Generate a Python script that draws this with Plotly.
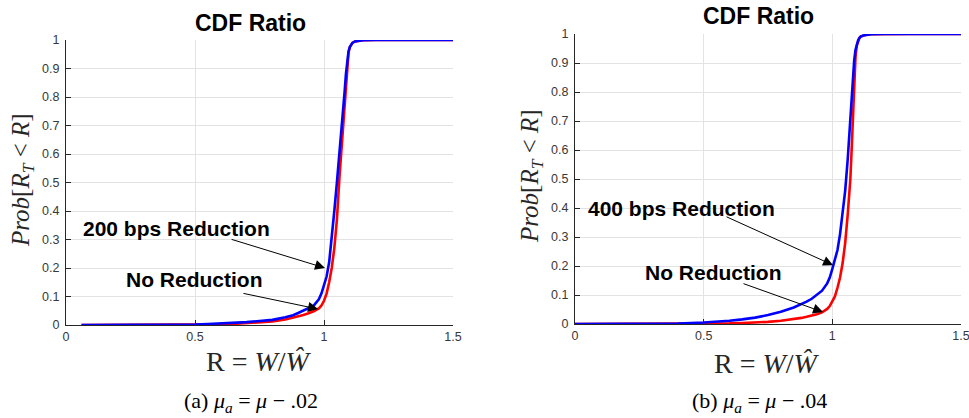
import plotly.graph_objects as go

# ---------------- data ----------------
# (a) mu_a = mu - .02
a_red_x = [0.06, 0.2, 0.3, 0.4, 0.5, 0.55, 0.6, 0.65, 0.7, 0.75, 0.8, 0.85, 0.88, 0.9, 0.92, 0.94,
           0.96, 0.98, 0.99, 1.0, 1.01, 1.02, 1.03, 1.04, 1.05, 1.06, 1.07, 1.08, 1.085, 1.09,
           1.095, 1.1, 1.105, 1.11, 1.12, 1.13, 1.15, 1.2, 1.3, 1.5]
a_red_y = [0.0, 0.0001, 0.0003, 0.0006, 0.001, 0.0015, 0.0025, 0.004, 0.006, 0.009, 0.012, 0.019,
           0.025, 0.03, 0.035, 0.041, 0.048, 0.058, 0.068, 0.085, 0.11, 0.15, 0.2, 0.27, 0.37, 0.52,
           0.65, 0.78, 0.86, 0.92, 0.955, 0.975, 0.985, 0.99, 0.995, 0.997, 0.999, 1.0, 1.0, 1.0]
a_blue_x = [0.06, 0.2, 0.3, 0.4, 0.5, 0.55, 0.6, 0.65, 0.7, 0.75, 0.8, 0.85, 0.88, 0.9, 0.92, 0.94,
            0.96, 0.98, 0.99, 1.0, 1.01, 1.02, 1.03, 1.04, 1.05, 1.06, 1.07, 1.08, 1.085, 1.09,
            1.095, 1.1, 1.105, 1.11, 1.12, 1.13, 1.15, 1.2, 1.3, 1.5]
a_blue_y = [0.0, 0.0002, 0.0005, 0.001, 0.002, 0.0035, 0.005, 0.0075, 0.01, 0.014, 0.018, 0.027,
            0.034, 0.042, 0.05, 0.058, 0.068, 0.09, 0.11, 0.14, 0.17, 0.22, 0.3, 0.4, 0.5, 0.6,
            0.7, 0.82, 0.88, 0.93, 0.96, 0.975, 0.985, 0.99, 0.995, 0.997, 0.999, 1.0, 1.0, 1.0]

# (b) mu_a = mu - .04
b_red_x = [0.0, 0.2, 0.4, 0.5, 0.6, 0.65, 0.7, 0.75, 0.8, 0.85, 0.88, 0.9, 0.92, 0.94, 0.96, 0.98,
           0.99, 1.0, 1.01, 1.02, 1.03, 1.04, 1.05, 1.06, 1.07, 1.075, 1.08, 1.085, 1.09, 1.095,
           1.1, 1.105, 1.11, 1.12, 1.13, 1.15, 1.2, 1.3, 1.5]
b_red_y = [0.0, 0.0001, 0.0005, 0.001, 0.002, 0.0033, 0.005, 0.0075, 0.011, 0.016, 0.021, 0.025,
           0.029, 0.034, 0.04, 0.052, 0.062, 0.077, 0.095, 0.125, 0.16, 0.21, 0.28, 0.38, 0.5, 0.6,
           0.72, 0.84, 0.92, 0.96, 0.977, 0.986, 0.991, 0.995, 0.997, 0.999, 1.0, 1.0, 1.0]
b_blue_x = [0.0, 0.1, 0.2, 0.3, 0.4, 0.5, 0.55, 0.6, 0.65, 0.7, 0.75, 0.8, 0.85, 0.88, 0.9, 0.92,
            0.94, 0.96, 0.98, 0.99, 1.0, 1.01, 1.02, 1.03, 1.04, 1.05, 1.06, 1.07, 1.08, 1.085,
            1.09, 1.095, 1.1, 1.105, 1.11, 1.12, 1.13, 1.15, 1.2, 1.3, 1.5]
b_blue_y = [0.0, 0.0001, 0.0003, 0.0006, 0.0015, 0.005, 0.0075, 0.011, 0.016, 0.022, 0.031, 0.042,
            0.057, 0.068, 0.077, 0.087, 0.1, 0.115, 0.14, 0.16, 0.19, 0.22, 0.255, 0.31, 0.38,
            0.46, 0.57, 0.72, 0.86, 0.91, 0.945, 0.965, 0.978, 0.986, 0.991, 0.995, 0.997, 0.999,
            1.0, 1.0, 1.0]

x_ticks = [0, 0.5, 1, 1.5]
x_tick_labels = ["0", "0.5", "1", "1.5"]
y_ticks = [0, 0.1, 0.2, 0.3, 0.4, 0.5, 0.6, 0.7, 0.8, 0.9, 1]
y_tick_labels = ["0", "0.1", "0.2", "0.3", "0.4", "0.5", "0.6", "0.7", "0.8", "0.9", "1"]

W, H = 969, 418

fig = go.Figure()
line_w = 2.6
fig.add_trace(go.Scatter(x=a_red_x, y=a_red_y, mode="lines", line=dict(color="#ff0000", width=line_w),
                         xaxis="x", yaxis="y", showlegend=False))
fig.add_trace(go.Scatter(x=a_blue_x, y=a_blue_y, mode="lines", line=dict(color="#0000ff", width=line_w),
                         xaxis="x", yaxis="y", showlegend=False))
fig.add_trace(go.Scatter(x=b_red_x, y=b_red_y, mode="lines", line=dict(color="#ff0000", width=line_w),
                         xaxis="x2", yaxis="y2", showlegend=False))
fig.add_trace(go.Scatter(x=b_blue_x, y=b_blue_y, mode="lines", line=dict(color="#0000ff", width=line_w),
                         xaxis="x2", yaxis="y2", showlegend=False))

tickfont = dict(family="Liberation Sans, Arial, sans-serif", size=12.5, color="#383838")
axis_common = dict(showgrid=True, gridcolor="#e3e3e3", gridwidth=1, zeroline=False,
                   showline=True, linecolor="#262626", linewidth=1,
                   ticks="inside", ticklen=5, tickcolor="#262626", tickwidth=1,
                   tickfont=tickfont, automargin=False, fixedrange=True,
                   ticklabeloverflow="allow")

def px2x(p):
    return p / W

def px2y(p):
    return 1 - p / H

fig.update_layout(
    width=W, height=H,
    margin=dict(l=0, r=0, t=0, b=0),
    paper_bgcolor="white", plot_bgcolor="white",
    xaxis=dict(domain=[px2x(66), px2x(453)], range=[0, 1.5], anchor="y",
               tickvals=x_ticks, ticktext=x_tick_labels, **axis_common),
    yaxis=dict(domain=[px2y(325), px2y(40)], range=[0, 1], anchor="x",
               tickvals=y_ticks, ticktext=y_tick_labels, ticklabelstandoff=3, **axis_common),
    xaxis2=dict(domain=[px2x(575), px2x(961)], range=[0, 1.5], anchor="y2",
                tickvals=x_ticks, ticktext=x_tick_labels, **axis_common),
    yaxis2=dict(domain=[px2y(324), px2y(34)], range=[0, 1], anchor="x2",
                tickvals=y_ticks, ticktext=y_tick_labels, ticklabelstandoff=3, **axis_common),
)

bold_font = dict(family="Liberation Sans, Arial, sans-serif", size=21, color="black")
serif = "Liberation Serif, Times New Roman, serif"
ann = []

# titles
for cx, cy in [(250, 23), (758, 16)]:
    ann.append(dict(text="<b>CDF Ratio</b>", xref="paper", yref="paper", x=px2x(cx), y=px2y(cy),
                    xanchor="center", yanchor="middle", showarrow=False,
                    font=dict(family="Liberation Sans, Arial, sans-serif", size=23, color="black")))

# y-axis titles
ytitle = "<i>Prob</i>[<i>R<sub>T</sub></i>&nbsp;&lt;&nbsp;<i>R</i>]"
for cx, cy in [(22, 180), (531, 176)]:
    ann.append(dict(text=ytitle, xref="paper", yref="paper", x=px2x(cx), y=px2y(cy),
                    xanchor="center", yanchor="middle", showarrow=False, textangle=-90,
                    font=dict(family=serif, size=25, color="#262626")))

# x-axis titles
xtitle = "R&nbsp;=&nbsp;<i>W</i>/<i>Ŵ</i>"
for cx, cy in [(259, 361), (767, 363)]:
    ann.append(dict(text=xtitle, xref="paper", yref="paper", x=px2x(cx), y=px2y(cy),
                    xanchor="center", yanchor="middle", showarrow=False,
                    font=dict(family=serif, size=28, color="#262626")))

# captions
for cx, label, val in [(251, "(a)", ".02"), (759, "(b)", ".04")]:
    ann.append(dict(text=f"{label}&nbsp;<i>μ<sub>a</sub></i>&nbsp;=&nbsp;<i>μ</i>&nbsp;−&nbsp;{val}",
                    xref="paper", yref="paper",
                    x=px2x(cx), y=px2y(402), xanchor="center", yanchor="middle", showarrow=False,
                    font=dict(family=serif, size=22, color="black")))

# curve labels
labels = [
    ("x", "y", "200 bps Reduction", 0.428, 0.337),
    ("x", "y", "No Reduction", 0.498, 0.158),
    ("x2", "y2", "400 bps Reduction", 0.414, 0.400),
    ("x2", "y2", "No Reduction", 0.540, 0.176),
]
for xr, yr, t, x, y in labels:
    ann.append(dict(text=f"<b>{t}</b>", xref=xr, yref=yr, x=x, y=y, xanchor="center", yanchor="middle",
                    showarrow=False, font=bold_font))

# arrows (tail -> head)
arrows = [
    ("x", "y", 0.636, 0.302, 1.004, 0.200),
    ("x", "y", 0.682, 0.112, 0.977, 0.056),
    ("x2", "y2", 0.583, 0.372, 1.003, 0.203),
    ("x2", "y2", 0.649, 0.141, 0.964, 0.041),
]
for xr, yr, tx, ty, hx, hy in arrows:
    ann.append(dict(text="", xref=xr, yref=yr, x=hx, y=hy, axref=xr, ayref=yr, ax=tx, ay=ty,
                    showarrow=True, arrowhead=2, arrowsize=2, arrowwidth=1, arrowcolor="black",
                    standoff=0, startstandoff=0))

fig.update_layout(annotations=ann)
fig.write_html("out.html")
